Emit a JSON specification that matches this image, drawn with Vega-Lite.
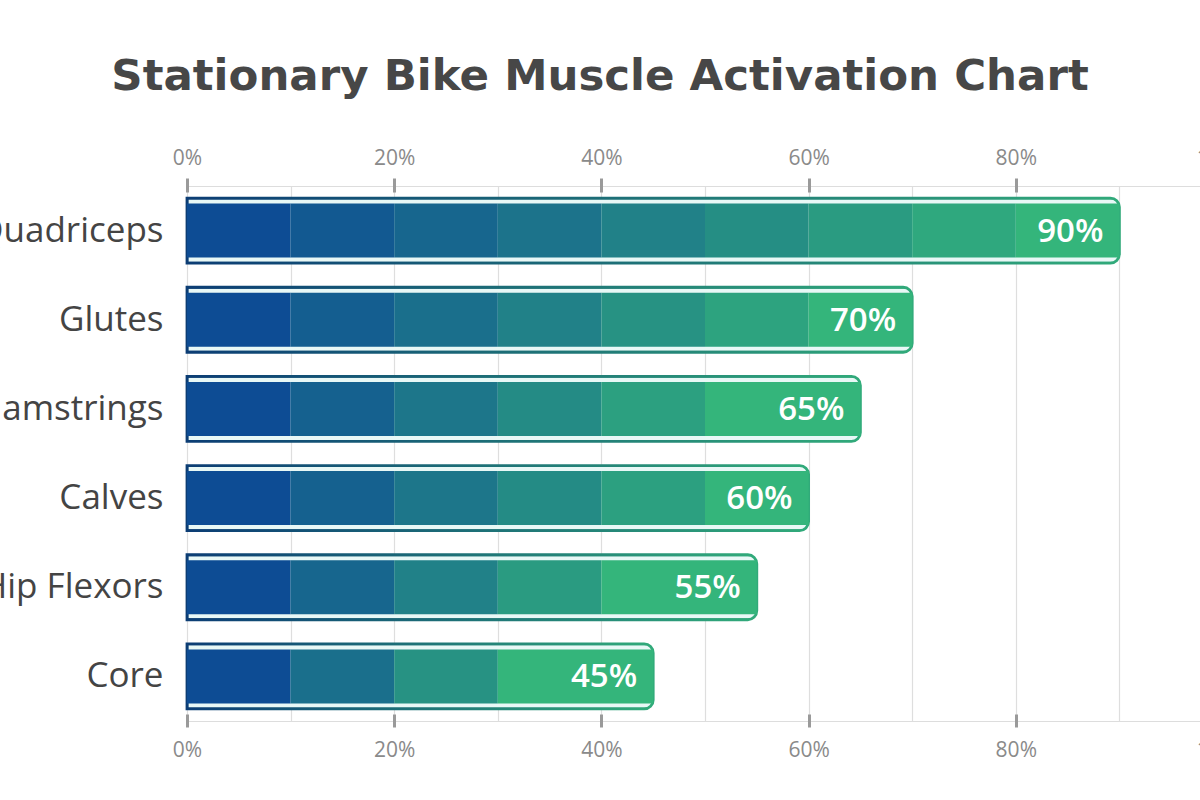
{
  "$schema": "https://vega.github.io/schema/vega-lite/v6.json",
  "autosize": {"type": "none"},
  "width": 1036,
  "height": 535,
  "padding": {"left": 187, "top": 186, "right": -23, "bottom": 79},
  "background": "#ffffff",
  "title": {
    "text": "Stationary Bike Muscle Activation Chart",
    "font": "DejaVu Sans",
    "fontSize": 43.5,
    "fontWeight": "bold",
    "color": "#474747",
    "anchor": "middle",
    "dx": -105,
    "offset": 48
  },
  "datasets": {
    "bars": [
      {"muscle": "Quadriceps", "value": 90, "label": "90%"},
      {"muscle": "Glutes", "value": 70, "label": "70%"},
      {"muscle": "Hamstrings", "value": 65, "label": "65%"},
      {"muscle": "Calves", "value": 60, "label": "60%"},
      {"muscle": "Hip Flexors", "value": 55, "label": "55%"},
      {"muscle": "Core", "value": 45, "label": "45%"}
    ],
    "segs": [
      {"muscle": "Quadriceps", "start": 0, "end": 10, "shade": 0},
      {"muscle": "Quadriceps", "start": 10, "end": 20, "shade": 0.125},
      {"muscle": "Quadriceps", "start": 20, "end": 30, "shade": 0.25},
      {"muscle": "Quadriceps", "start": 30, "end": 40, "shade": 0.375},
      {"muscle": "Quadriceps", "start": 40, "end": 50, "shade": 0.5},
      {"muscle": "Quadriceps", "start": 50, "end": 60, "shade": 0.625},
      {"muscle": "Quadriceps", "start": 60, "end": 70, "shade": 0.75},
      {"muscle": "Quadriceps", "start": 70, "end": 80, "shade": 0.875},
      {"muscle": "Quadriceps", "start": 80, "end": 90, "shade": 1},
      {"muscle": "Glutes", "start": 0, "end": 10, "shade": 0},
      {"muscle": "Glutes", "start": 10, "end": 20, "shade": 0.167},
      {"muscle": "Glutes", "start": 20, "end": 30, "shade": 0.333},
      {"muscle": "Glutes", "start": 30, "end": 40, "shade": 0.5},
      {"muscle": "Glutes", "start": 40, "end": 50, "shade": 0.667},
      {"muscle": "Glutes", "start": 50, "end": 60, "shade": 0.833},
      {"muscle": "Glutes", "start": 60, "end": 70, "shade": 1},
      {"muscle": "Hamstrings", "start": 0, "end": 10, "shade": 0},
      {"muscle": "Hamstrings", "start": 10, "end": 20, "shade": 0.2},
      {"muscle": "Hamstrings", "start": 20, "end": 30, "shade": 0.4},
      {"muscle": "Hamstrings", "start": 30, "end": 40, "shade": 0.6},
      {"muscle": "Hamstrings", "start": 40, "end": 50, "shade": 0.8},
      {"muscle": "Hamstrings", "start": 50, "end": 65, "shade": 1},
      {"muscle": "Calves", "start": 0, "end": 10, "shade": 0},
      {"muscle": "Calves", "start": 10, "end": 20, "shade": 0.2},
      {"muscle": "Calves", "start": 20, "end": 30, "shade": 0.4},
      {"muscle": "Calves", "start": 30, "end": 40, "shade": 0.6},
      {"muscle": "Calves", "start": 40, "end": 50, "shade": 0.8},
      {"muscle": "Calves", "start": 50, "end": 60, "shade": 1},
      {"muscle": "Hip Flexors", "start": 0, "end": 10, "shade": 0},
      {"muscle": "Hip Flexors", "start": 10, "end": 20, "shade": 0.25},
      {"muscle": "Hip Flexors", "start": 20, "end": 30, "shade": 0.5},
      {"muscle": "Hip Flexors", "start": 30, "end": 40, "shade": 0.75},
      {"muscle": "Hip Flexors", "start": 40, "end": 55, "shade": 1},
      {"muscle": "Core", "start": 0, "end": 10, "shade": 0},
      {"muscle": "Core", "start": 10, "end": 20, "shade": 0.333},
      {"muscle": "Core", "start": 20, "end": 30, "shade": 0.667},
      {"muscle": "Core", "start": 30, "end": 45, "shade": 1}
    ]
  },
  "encoding": {
    "y": {
      "field": "muscle",
      "type": "nominal",
      "sort": ["Quadriceps", "Glutes", "Hamstrings", "Calves", "Hip Flexors", "Core"],
      "scale": {"paddingInner": 0, "paddingOuter": 0},
      "axis": {
        "title": null,
        "domain": false,
        "ticks": false,
        "labelFont": "Open Sans",
        "labelFontSize": 35,
        "labelColor": "#444444",
        "labelPadding": 24,
        "labelLimit": 0
      }
    }
  },
  "layer": [
    {
      "data": {"name": "bars"},
      "mark": {
        "type": "bar",
        "height": 65,
        "fill": "#e8f8f6",
        "strokeWidth": 2.8,
        "x2Offset": 3,
        "cornerRadiusEnd": 9,
        "stroke": {
          "gradient": "linear",
          "x1": 0, "y1": 0, "x2": 1, "y2": 0,
          "stops": [
            {"offset": 0, "color": "#0c3d74"},
            {"offset": 1, "color": "#31aa7a"}
          ]
        }
      },
      "encoding": {
        "x": {
          "field": "value",
          "type": "quantitative",
          "scale": {"domain": [0, 100], "nice": false, "zero": true},
          "axis": {
            "orient": "top",
            "title": null,
            "values": [0, 10, 20, 30, 40, 50, 60, 70, 80, 90, 100],
            "labelExpr": "datum.value % 20 === 0 ? datum.value + '%' : ''",
            "labelFlush": false,
            "labelOverlap": false,
            "grid": true,
            "gridColor": "#dedede",
            "gridWidth": 1.2,
            "domain": false,
            "offset": -6,
            "tickSize": 14,
            "tickWidth": 3,
            "tickColor": {"condition": {"test": "datum.value % 20 === 0", "value": "#9a9a9a"}, "value": "rgba(0,0,0,0)"},
            "labelFont": "Open Sans",
            "labelFontSize": 21,
            "labelColor": "#8a8a8a",
            "labelPadding": 10
          }
        }
      }
    },
    {
      "data": {"name": "segs"},
      "mark": {"type": "bar", "height": 54},
      "encoding": {
        "x": {
          "field": "start",
          "type": "quantitative",
          "axis": {
            "orient": "bottom",
            "title": null,
            "values": [0, 10, 20, 30, 40, 50, 60, 70, 80, 90, 100],
            "labelExpr": "datum.value % 20 === 0 ? datum.value + '%' : ''",
            "labelFlush": false,
            "labelOverlap": false,
            "grid": false,
            "domain": false,
            "offset": -7,
            "tickSize": 13,
            "tickWidth": 3,
            "tickColor": {"condition": {"test": "datum.value % 20 === 0", "value": "#9a9a9a"}, "value": "rgba(0,0,0,0)"},
            "labelFont": "Open Sans",
            "labelFontSize": 21,
            "labelColor": "#8a8a8a",
            "labelPadding": 12
          }
        },
        "x2": {"field": "end"},
        "color": {
          "field": "shade",
          "type": "quantitative",
          "scale": {"domain": [0, 1], "range": ["#0d4c94", "#34b57b"], "interpolate": "rgb"},
          "legend": null
        }
      }
    },
    {
      "data": {"name": "bars"},
      "mark": {
        "type": "text",
        "align": "right",
        "baseline": "middle",
        "dx": -16,
        "dy": 1,
        "font": "Open Sans",
        "fontSize": 33,
        "fontWeight": 600,
        "fill": "#ffffff"
      },
      "encoding": {
        "x": {"field": "value", "type": "quantitative", "axis": null},
        "text": {"field": "label", "type": "nominal"}
      }
    }
  ]
}
